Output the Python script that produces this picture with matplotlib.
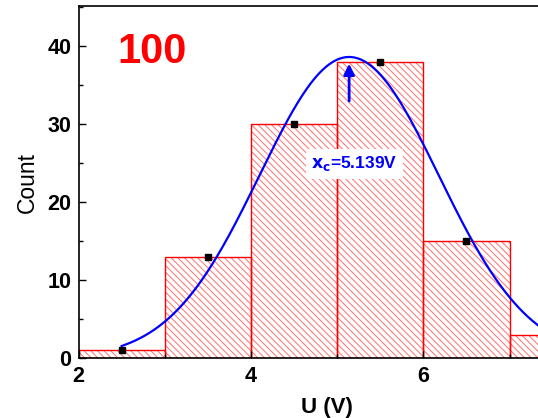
import numpy as np
import matplotlib.pyplot as plt
from matplotlib.ticker import MultipleLocator

plt.rcParams['font.family'] = ['Liberation Sans', 'DejaVu Sans']
plt.rcParams['hatch.linewidth'] = 0.7

# histogram bins (left edges) and counts
bin_left = [2, 3, 4, 5, 6, 7]
counts = [1, 13, 30, 38, 15, 3]
# bin centres with counts (fit points)
pt_x = [2.5, 3.5, 4.5, 5.5, 6.5, 7.5]
pt_y = [1, 13, 30, 38, 15, 3]

# gaussian fit parameters
xc = 5.139
w = 1.04
amp = 38.6
y0 = 0.0

fig = plt.figure(figsize=(5.38, 4.18), dpi=100)
ax = fig.add_axes([0.146, 0.1435, 0.854, 0.8415])

# hatch in light red, edges in full red
ax.bar(bin_left, counts, width=1, align='edge', color='none',
       edgecolor='#ff7070', hatch='\\\\\\\\\\', linewidth=0)
ax.bar(bin_left, counts, width=1, align='edge', color='none',
       edgecolor='red', linewidth=1.0)

xf = np.linspace(2.5, 8, 300)
yf = y0 + amp * np.exp(-(xf - xc) ** 2 / (2 * w ** 2))
ax.plot(xf, yf, color='#0000ff', lw=1.6, zorder=4)
ax.plot(pt_x, pt_y, 's', color='black', ms=5, zorder=5)

ax.annotate('', xy=(xc, 38.1), xytext=(xc, 32.6),
            arrowprops=dict(arrowstyle='-|>', color='#0000ff', lw=2,
                            mutation_scale=16), zorder=6)
ax.text(5.2, 24.9, r'$\mathbf{x_c}$=5.139V', color='#0000ff', fontsize=12.5,
        fontweight='bold', ha='center', va='center', zorder=6,
        bbox=dict(facecolor='white', edgecolor='none', pad=4))

ax.text(2.85, 39.3, '100', color='red', fontsize=30, fontweight='bold',
        ha='center', va='center')

ax.set_xlim(2, 7.33)
ax.set_ylim(0, 45.1)
ax.spines['right'].set_visible(False)
for s in ['left', 'bottom', 'top']:
    ax.spines[s].set_linewidth(1.2)

ax.xaxis.set_major_locator(MultipleLocator(2))
ax.xaxis.set_minor_locator(MultipleLocator(1))
ax.yaxis.set_major_locator(MultipleLocator(10))
ax.yaxis.set_minor_locator(MultipleLocator(5))
ax.tick_params(which='both', direction='in', top=False, right=False)
ax.tick_params(which='major', length=5, width=1, labelsize=15.5)
ax.tick_params(axis='x', which='major', pad=6)
ax.tick_params(axis='y', which='major', pad=5)
ax.tick_params(which='minor', length=3, width=1)
for lab in ax.get_xticklabels() + ax.get_yticklabels():
    lab.set_fontweight('bold')

ax.set_xlabel('U (V)', fontsize=16, fontweight='bold')
ax.xaxis.set_label_coords(0.541, -0.112)
ax.set_ylabel('Count', fontsize=16.5)
ax.yaxis.set_label_coords(-0.086, 0.5)

fig.savefig('out.png', dpi=100)
